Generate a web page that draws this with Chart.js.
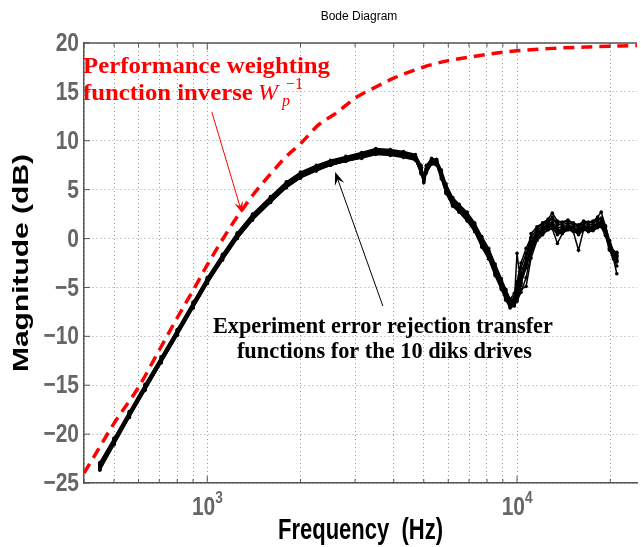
<!DOCTYPE html>
<html><head><meta charset="utf-8">
<script src="https://cdn.jsdelivr.net/npm/chart.js@4.4.1/dist/chart.umd.min.js"></script>
<style>html,body{margin:0;padding:0;background:#fff;overflow:hidden}canvas{display:block}</style>
</head><body>
<canvas id="c" width="641" height="547"></canvas>
<script>
// ---------- data ----------
const freqHz = [
  450,500,560,630,710,800,900,1000,1120,1250,
  1400,1600,1800,2000,2250,2500,2800,3150,3500,3900,
  4300,4700,4900,5000,5100,5300,5500,5700,5900,6200,
  6500,6900,7300,7700,8100,8500,8900,9200,9500,9800,
  10000,10300,10700,11100,11600,12100,12600,13000,13500,14000,
  14600,15200,15800,16400,17000,17600,18200,18700,19300,19900,
  20500,21000];

const drive1 = [
  -23.2,-20.7,-18.0,-15.2,-12.4,-9.6,-6.8,-4.3,-1.9,0.3,
  2.2,4.0,5.5,6.5,7.2,7.7,8.1,8.5,8.9,8.8,
  8.6,8.3,7.0,6.0,7.0,7.9,7.8,6.6,5.0,3.6,
  3.1,2.2,1.1,-0.5,-1.6,-3.3,-4.7,-5.7,-6.7,-6.2,
  -5.5,-4.0,-2.5,-0.8,0.4,1.0,1.4,1.5,0.9,1.0,
  1.3,1.1,0.8,1.3,1.1,1.2,1.5,1.6,0.8,-0.8,
  -1.8,-2.0];
const drive2 = [
  -23.0,-20.5,-17.8,-15.0,-12.2,-9.4,-6.6,-4.1,-1.7,0.5,
  2.4,4.2,5.7,6.7,7.4,7.9,8.3,8.7,9.1,9.0,
  8.8,8.5,7.3,6.3,7.4,8.1,8.0,6.9,5.4,4.0,
  3.4,2.5,1.5,0.0,-1.2,-2.8,-4.3,-5.3,-6.3,-6.5,
  -1.5,-4.8,-2.0,0.5,1.2,1.6,2.0,2.6,1.8,1.7,
  1.9,1.6,1.4,1.8,1.7,1.8,2.2,2.7,1.3,-0.2,
  -1.3,-1.4];
const drive3 = [
  -23.5,-21.0,-18.2,-15.4,-12.6,-9.8,-7.0,-4.5,-2.1,0.1,
  2.0,3.8,5.3,6.3,7.0,7.5,7.9,8.3,8.7,8.6,
  8.4,8.1,6.6,5.7,6.8,7.7,7.6,6.2,4.7,3.4,
  2.8,1.9,0.8,-0.8,-2.0,-3.7,-5.1,-6.1,-7.0,-6.8,
  -6.2,-5.2,-4.9,-2.0,-0.2,0.4,0.9,1.0,-0.5,0.5,
  0.9,0.7,-1.2,0.9,0.7,0.8,1.1,1.2,0.3,-1.2,
  -2.1,-3.6];
const drive4 = [
  -23.7,-21.1,-18.3,-15.5,-12.7,-9.9,-7.1,-4.6,-2.2,0.0,
  1.9,3.7,5.2,6.2,6.9,7.5,7.9,8.2,8.6,8.5,
  8.3,8.0,6.8,5.9,6.9,7.8,7.7,6.4,4.9,3.5,
  2.9,2.0,0.9,-0.6,-1.8,-3.5,-4.9,-6.0,-6.9,-6.6,
  -6.0,-4.5,-3.0,-1.2,0.1,0.7,1.1,1.3,0.6,0.7,
  1.0,0.9,0.5,1.0,0.9,1.0,1.3,1.4,0.5,-1.0,
  -2.0,-2.4];
const drive5 = [
  -23.1,-20.6,-17.9,-15.1,-12.3,-9.5,-6.7,-4.2,-1.8,0.4,
  2.3,4.1,5.6,6.6,7.3,7.8,8.2,8.6,9.0,8.9,
  8.7,8.4,7.2,6.2,7.2,8.0,7.9,6.8,5.2,3.8,
  3.2,2.4,1.3,-0.2,-1.4,-3.0,-4.5,-5.5,-6.5,-6.0,
  -5.0,-3.0,-1.5,-0.3,0.8,1.3,1.7,2.0,1.4,1.4,
  1.6,1.4,1.1,1.6,1.4,1.5,1.9,2.0,1.1,-0.5,
  -1.5,-1.7];
const drive6 = [
  -23.3,-20.8,-18.1,-15.3,-12.5,-9.7,-6.9,-4.4,-2.0,0.2,
  2.1,3.9,5.4,6.4,7.1,7.6,8.0,8.4,8.8,8.7,
  8.5,8.2,6.9,6.1,7.1,7.9,7.8,6.5,4.8,3.6,
  3.0,2.1,1.0,-0.5,-1.7,-3.4,-4.8,-5.8,-6.8,-6.5,
  -5.8,-4.2,-2.7,-1.0,0.3,0.9,1.3,1.4,0.8,0.9,
  1.2,1.0,0.7,1.2,1.0,1.1,1.4,1.5,0.7,-0.9,
  -1.9,-2.2];
const drive7 = [
  -22.9,-20.4,-17.7,-14.9,-12.1,-9.3,-6.5,-4.0,-1.6,0.6,
  2.5,4.3,5.8,6.8,7.5,8.0,8.4,8.8,9.2,9.1,
  8.9,8.6,7.5,6.4,7.5,8.2,8.1,7.0,5.6,4.2,
  3.5,2.7,1.6,0.2,-1.0,-2.6,-4.1,-5.2,-6.2,-5.6,
  -4.4,-2.5,-1.0,0.1,1.0,1.5,1.8,2.2,1.6,1.6,
  1.8,1.5,1.3,1.7,1.6,1.7,2.0,2.1,1.2,-0.3,
  -1.4,-1.5];
const drive8 = [
  -23.4,-20.9,-18.2,-15.4,-12.6,-9.8,-7.0,-4.5,-2.1,0.1,
  2.0,3.8,5.3,6.3,7.0,7.6,8.0,8.4,8.7,8.6,
  8.4,8.1,6.7,5.8,6.7,7.6,7.5,6.1,4.6,3.3,
  2.7,1.8,0.7,-0.9,-2.1,-3.8,-5.2,-6.3,-7.1,-6.9,
  -6.4,-5.5,-4.0,-1.5,-0.1,0.5,0.9,1.1,0.4,0.6,
  0.9,0.8,0.4,0.9,0.8,0.9,1.2,1.3,0.4,-1.1,
  -2.0,-2.8];
const drive9 = [
  -23.6,-21.0,-18.3,-15.5,-12.7,-9.9,-7.1,-4.6,-2.2,0.0,
  1.9,3.7,5.2,6.2,7.0,7.5,7.9,8.3,8.8,8.7,
  8.5,8.2,7.0,6.1,7.0,7.8,7.7,6.3,4.8,3.5,
  2.9,2.0,0.9,-0.7,-1.9,-3.6,-5.0,-6.0,-6.9,-6.7,
  -5.9,-4.6,-2.9,-1.1,0.2,0.8,1.2,1.4,0.7,0.8,
  1.1,0.9,0.6,1.1,0.9,1.0,1.3,1.4,0.6,-1.0,
  -1.9,-2.3];
const drive10 = [
  -23.0,-20.6,-17.9,-15.1,-12.3,-9.5,-6.7,-4.2,-1.8,0.4,
  2.3,4.1,5.6,6.6,7.3,7.8,8.2,8.6,9.0,8.9,
  8.7,8.4,7.1,6.1,7.2,8.0,7.9,6.7,5.2,3.9,
  3.3,2.3,1.2,-0.3,-1.5,-3.1,-4.6,-5.6,-6.6,-6.3,
  -5.3,-3.6,-2.0,-0.5,0.6,1.1,1.5,1.7,1.1,1.2,
  1.4,1.2,0.9,1.4,1.2,1.3,1.6,1.8,0.9,-0.6,
  -1.6,-1.8];

const weightFreqHz = [400,450,500,600,700,800,900,1000,1100,1200,1300,1400,1600,1800,2000,2300,2600,3000,3500,4000,4500,5000,6000,7000,8500,10000,13000,17000,24400];
const weightInvDb  = [-24.0,-21.3,-18.9,-15.2,-11.4,-8.1,-5.3,-2.7,-0.5,1.4,3.0,4.4,6.6,8.4,9.7,11.7,12.8,14.35,15.5,16.4,17.05,17.55,18.2,18.55,18.95,19.2,19.45,19.6,19.75];

const xTickValues = [400,500,600,700,800,900,1000,2000,3000,4000,5000,6000,7000,8000,9000,10000,20000];
const xTickLabels = {1000:['10','3'], 10000:['10','4']};
const yTickValues = [-25,-20,-15,-10,-5,0,5,10,15,20];

const titleText = 'Bode Diagram';
const xTitle = 'Frequency  (Hz)';
const yTitle = 'Magnitude (dB)';
const redLabelLines = ['Performance weighting', 'function inverse '];
const blackLabelLines = ['Experiment error rejection transfer', 'functions for the 10 diks drives'];
// annotation anchors in data units (Hz, dB)
const redLabelAnchor = {f: 400, db: [16.9, 14.2]};
const blackLabelAnchor = {f: 3690, db: [-9.7, -12.2]};
const redArrow = {from: [1034, 12.97], to: [1293, 2.65]};
const blackArrow = {from: [3689, -6.9], to: [2588, 6.8]};

// ---------- chart ----------
const drives = [drive1,drive2,drive3,drive4,drive5,drive6,drive7,drive8,drive9,drive10];
const datasets = [{
  label: 'W_p^-1',
  data: weightFreqHz.map((f,i)=>({x:f, y:weightInvDb[i]})),
  borderColor: '#ff0000', borderWidth: 3.5, borderDash: [11,7],
  pointRadius: 0, cubicInterpolationMode: 'monotone', fill: false
}];
drives.forEach((d,k)=>datasets.push({
  label: 'drive ' + (k+1),
  data: freqHz.map((f,i)=>({x:f, y:d[i]})),
  borderColor: '#000', borderWidth: 1.5, tension: 0,
  pointRadius: 1.8, pointBackgroundColor: '#000', pointBorderWidth: 0, fill:false
}));

const SANS = '"Liberation Sans", Arial, Helvetica, sans-serif';
const SERIF = '"Liberation Serif", "Times New Roman", serif';

function arrow(ctx, x1, y1, x2, y2, color, L, W) {
  const a = Math.atan2(y2-y1, x2-x1);
  ctx.save();
  ctx.strokeStyle = color; ctx.fillStyle = color; ctx.lineWidth = 1;
  ctx.beginPath(); ctx.moveTo(x1,y1); ctx.lineTo(x2 - Math.cos(a)*L*0.6, y2 - Math.sin(a)*L*0.6); ctx.stroke();
  ctx.translate(x2,y2); ctx.rotate(a);
  ctx.beginPath(); ctx.moveTo(0,0); ctx.lineTo(-L, -W); ctx.lineTo(-L*0.6, 0); ctx.lineTo(-L, W); ctx.closePath(); ctx.fill();
  ctx.restore();
}
function fitText(ctx, txt, x, y, w, sy) {
  const m = ctx.measureText(txt).width;
  ctx.save(); ctx.translate(x, y); ctx.scale(w/m, sy || 1); ctx.fillText(txt, 0, 0); ctx.restore();
}
function stretchText(ctx, txt, x, y, sx, sy) {
  ctx.save(); ctx.translate(x, y); ctx.scale(sx, sy); ctx.fillText(txt, 0, 0); ctx.restore();
}

const decor = {
  id: 'decor',
  afterDraw(chart) {
    const {ctx, chartArea:ca, scales:{x, y}} = chart;
    ctx.save();
    // top frame line
    ctx.strokeStyle = '#555'; ctx.lineWidth = 1.5;
    ctx.beginPath(); ctx.moveTo(ca.left, ca.top); ctx.lineTo(ca.right, ca.top); ctx.stroke();
    // inward tick marks
    ctx.lineWidth = 1;
    xTickValues.forEach(v => {
      const px = x.getPixelForValue(v); const L = xTickLabels[v] ? 7 : 4;
      ctx.beginPath(); ctx.moveTo(px, ca.bottom); ctx.lineTo(px, ca.bottom - L);
      ctx.moveTo(px, ca.top); ctx.lineTo(px, ca.top + L); ctx.stroke();
    });
    yTickValues.forEach(v => {
      const py = y.getPixelForValue(v);
      ctx.beginPath(); ctx.moveTo(ca.left, py); ctx.lineTo(ca.left + 6, py); ctx.stroke();
    });
    // y tick labels (vertically stretched like the source figure)
    ctx.fillStyle = '#666'; ctx.font = 'bold 20px ' + SANS;
    ctx.textAlign = 'right'; ctx.textBaseline = 'middle';
    yTickValues.forEach(v => {
      stretchText(ctx, String(v).replace('-', '\u2212'), ca.left - 5, y.getPixelForValue(v) + 1, 1.05, 1.28);
    });
    // x tick labels 10^3, 10^4
    ctx.textBaseline = 'alphabetic';
    Object.keys(xTickLabels).forEach(k => {
      const px = x.getPixelForValue(+k); const [b, e] = xTickLabels[k];
      ctx.textAlign = 'right'; ctx.font = 'bold 20px ' + SANS;
      stretchText(ctx, b, px + 8, ca.bottom + 32, 1.05, 1.28);
      ctx.textAlign = 'left'; ctx.font = 'bold 13px ' + SANS;
      stretchText(ctx, e, px + 8, ca.bottom + 20, 1.05, 1.3);
    });
    // axis titles
    ctx.fillStyle = '#000'; ctx.font = 'bold 22px ' + SANS;
    ctx.textAlign = 'center'; ctx.textBaseline = 'middle';
    fitText(ctx, xTitle, (ca.left + ca.right) / 2, 531, 165, 1.3);
    ctx.save();
    ctx.translate(22, (ca.top + ca.bottom) / 2); ctx.rotate(-Math.PI / 2);
    fitText(ctx, yTitle, 0, 0, 218, 1.0);
    ctx.restore();
    // title
    ctx.fillStyle = '#000'; ctx.font = '12px ' + SANS;
    ctx.textAlign = 'center'; ctx.textBaseline = 'alphabetic';
    ctx.fillText(titleText, 359, 20);
    // red label
    ctx.fillStyle = '#ff0000'; ctx.textAlign = 'left';
    ctx.font = 'bold 22px ' + SERIF;
    const rx = x.getPixelForValue(redLabelAnchor.f) - 1;
    fitText(ctx, redLabelLines[0], rx, y.getPixelForValue(redLabelAnchor.db[0]), 247, 1.05);
    const y2 = y.getPixelForValue(redLabelAnchor.db[1]);
    fitText(ctx, redLabelLines[1], rx, y2, 176, 1.05);
    ctx.font = 'italic 24px ' + SERIF;
    ctx.fillText('W', rx + 175, y2);
    ctx.font = 'italic 16px ' + SERIF;
    ctx.fillText('p', rx + 199, y2 + 6);
    ctx.font = '16px ' + SERIF;
    ctx.fillText('\u22121', rx + 203, y2 - 11);
    // black label
    ctx.fillStyle = '#000';
    ctx.font = 'bold 22px ' + SERIF;
    const bx = x.getPixelForValue(blackLabelAnchor.f);
    fitText(ctx, blackLabelLines[0], bx - 170, y.getPixelForValue(blackLabelAnchor.db[0]), 340, 1.05);
    fitText(ctx, blackLabelLines[1], bx - 146, y.getPixelForValue(blackLabelAnchor.db[1]), 295, 1.05);
    // arrows
    arrow(ctx, x.getPixelForValue(redArrow.from[0]), y.getPixelForValue(redArrow.from[1]),
               x.getPixelForValue(redArrow.to[0]), y.getPixelForValue(redArrow.to[1]), '#ff0000', 11, 4.5);
    arrow(ctx, x.getPixelForValue(blackArrow.from[0]), y.getPixelForValue(blackArrow.from[1]),
               x.getPixelForValue(blackArrow.to[0]), y.getPixelForValue(blackArrow.to[1]), '#000', 13, 5);
    ctx.restore();
  }
};

new Chart(document.getElementById('c'), {
  type: 'line',
  data: {datasets},
  plugins: [decor],
  options: {
    responsive: false, animation: false, events: [],
    layout: {padding: {top: 43, right: 0, bottom: 0, left: 0}},
    plugins: {legend: {display: false}, tooltip: {enabled: false}, title: {display: false}},
    scales: {
      x: {
        type: 'logarithmic', min: 400, max: 24400,
        afterBuildTicks: s => { s.ticks = xTickValues.map(v => ({value: v})); },
        afterFit: s => { s.height = 64; s.paddingLeft = 0; s.paddingRight = 0; },
        ticks: {display: false, autoSkip: false},
        grid: {color: '#9a9a9a', lineWidth: 1, drawTicks: false},
        border: {display: true, color: '#555', width: 1.5, dash: [1,3]},
        title: {display: false}
      },
      y: {
        min: -25, max: 20,
        afterBuildTicks: s => { s.ticks = yTickValues.map(v => ({value: v})); },
        afterFit: s => { s.width = 84; s.paddingTop = 0; s.paddingBottom = 0; },
        ticks: {display: false},
        grid: {color: '#9a9a9a', lineWidth: 1, drawTicks: false},
        border: {display: true, color: '#555', width: 1.5, dash: [1,3]},
        title: {display: false}
      }
    }
  }
});
</script>
</body></html>
